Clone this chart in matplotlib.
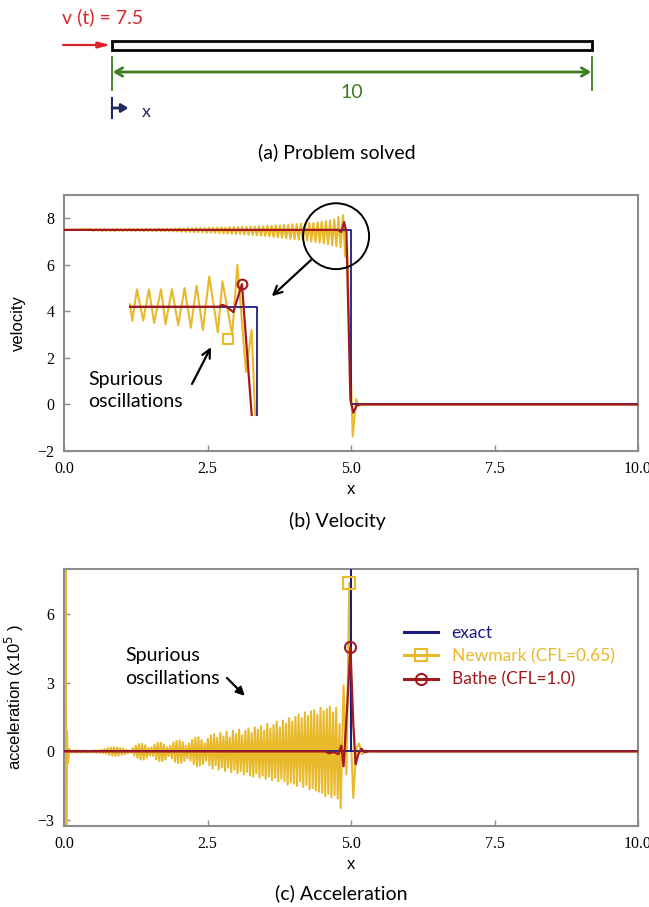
import numpy as np
import matplotlib.pyplot as plt
from matplotlib.patches import Rectangle, Ellipse
from matplotlib.lines import Line2D

plt.rcParams['font.family'] = ['Liberation Serif', 'DejaVu Serif']
plt.rcParams['axes.unicode_minus'] = True

NAVY = '#1c1c84'
GOLD = '#e9b92c'
RED = '#a3191c'
SPINE = '#8c8c8c'
ANNO = 'Lato'
LABEL = 'Liberation Sans'

# ---- (a) problem: bar of length 10, velocity 7.5 applied at x = 0
bar_length = 10
v_applied = 7.5

# ---- (b) velocity
vel_exact_x = [0, 5.0, 5.0, 10]
vel_exact_y = [7.5, 7.5, 0, 0]
vel_bathe_x = [0, 4.78, 4.83, 4.88, 4.92, 4.99, 5.04, 5.10, 5.16, 10]
vel_bathe_y = [7.5, 7.5, 7.41, 7.84, 7.4, 0.2, -0.35, -0.05, 0, 0]
# newmark ripple around 7.5, one (above, below) pair per cycle between x=0.5 and x=4.8
vel_nm_up = [0.03, 0.04, 0.03, 0.05, 0.03, 0.04, 0.05, 0.03, 0.04, 0.05,
             0.04, 0.05, 0.04, 0.06, 0.05, 0.04, 0.06, 0.05, 0.06, 0.05,
             0.06, 0.07, 0.06, 0.08, 0.07, 0.08, 0.09, 0.08, 0.10, 0.09,
             0.10, 0.11, 0.10, 0.12, 0.13, 0.12, 0.14, 0.13, 0.15, 0.14,
             0.16, 0.15, 0.18, 0.17, 0.20, 0.19, 0.22, 0.21, 0.24, 0.25,
             0.27, 0.26, 0.30, 0.29, 0.33, 0.35, 0.38, 0.40, 0.45, 0.55]
vel_nm_dn = [0.04, 0.03, 0.05, 0.04, 0.04, 0.05, 0.03, 0.05, 0.04, 0.04,
             0.05, 0.04, 0.06, 0.05, 0.05, 0.06, 0.05, 0.06, 0.05, 0.07,
             0.07, 0.08, 0.08, 0.09, 0.10, 0.10, 0.11, 0.12, 0.12, 0.13,
             0.14, 0.15, 0.15, 0.17, 0.18, 0.18, 0.20, 0.21, 0.22, 0.23,
             0.25, 0.26, 0.28, 0.30, 0.32, 0.34, 0.36, 0.38, 0.40, 0.42,
             0.44, 0.46, 0.50, 0.52, 0.55, 0.58, 0.62, 0.66, 0.70, 0.75]
vel_nm_front_x = [4.86, 4.90, 4.93, 5.03, 5.09, 5.13, 5.18, 10]
vel_nm_front_y = [8.13, 6.35, 6.9, -1.38, 0.23, -0.05, 0, 0]

# zoomed detail of the wave front (drawn inside the velocity panel)
zoom_exact_x = [1.15, 3.36, 3.36]
zoom_exact_y = [4.2, 4.2, -0.45]
zoom_bathe_x = [1.15, 2.70, 2.76, 2.82, 2.95, 3.10, 3.27]
zoom_bathe_y = [4.2, 4.2, 4.28, 4.22, 3.97, 5.17, -0.45]
zoom_nm_x = [1.15, 1.19, 1.27, 1.38, 1.48, 1.57, 1.69, 1.77, 1.88, 1.99, 2.10,
             2.21, 2.31, 2.42, 2.53, 2.68, 2.76, 2.93, 3.02, 3.17, 3.27, 3.33]
zoom_nm_y = [4.3, 3.6, 4.95, 3.6, 4.95, 3.5, 4.95, 3.45, 4.95, 3.4, 5.0,
             3.3, 5.1, 3.2, 5.5, 3.1, 5.3, 3.0, 6.0, 1.4, 3.2, -0.45]
zoom_nm_marker = (2.86, 2.8)
zoom_bathe_marker = (3.10, 5.17)

# ---- (c) acceleration (x1e5)
acc_exact_x = [0, 5.0, 5.0, 5.0, 10]
acc_exact_y = [0, 0, 20, 0, 0]
acc_bathe_x = [0, 4.55, 4.62, 4.70, 4.78, 4.83, 4.87, 4.93, 4.99, 5.04, 5.08,
               5.13, 5.18, 5.24, 5.30, 10]
acc_bathe_y = [0, 0, -0.08, -0.03, -0.12, 0.25, -0.65, 1.8, 4.55, 1.2, -0.56,
               -0.1, 0.12, -0.04, 0, 0]
acc_nm_start_x = [0, 0.01, 0.02, 0.03, 0.04, 0.05, 0.07, 0.09]
acc_nm_start_y = [0, 12, -6, 12, -6, 0.9, -0.5, 0.1]
# spurious spikes between x=0.12 and x=4.76: peak above / below zero per cycle
acc_nm_up = [0.05, 0.04, 0.05, 0.04, 0.05, 0.04, 0.03, 0.04, 0.05, 0.06, 0.07,
             0.10, 0.14, 0.17, 0.18, 0.17, 0.15, 0.12, 0.08, 0.05,
             0.15, 0.25, 0.32, 0.33, 0.27, 0.15,
             0.18, 0.30, 0.38, 0.38, 0.30, 0.18,
             0.25, 0.40, 0.45, 0.47, 0.40, 0.25,
             0.35, 0.50, 0.60, 0.62, 0.50, 0.35,
             0.55, 0.70, 0.75, 0.60, 0.80, 0.65,
             0.85, 0.60, 0.90, 0.75, 0.95, 0.70,
             0.90, 1.00, 0.80, 1.05, 0.95, 1.10,
             0.90, 1.20, 1.00, 1.15, 1.30, 1.05,
             1.35, 1.20, 1.45, 1.30, 1.50, 1.60,
             1.45, 1.70, 1.55, 1.75, 1.80, 1.60,
             1.90, 1.75, 1.85, 1.95, 1.70, 1.90]
acc_nm_dn = [0.05, 0.05, 0.04, 0.05, 0.04, 0.05, 0.04, 0.03, 0.05, 0.06, 0.07,
             0.10, 0.15, 0.18, 0.20, 0.18, 0.15, 0.12, 0.08, 0.05,
             0.18, 0.28, 0.35, 0.35, 0.28, 0.18,
             0.20, 0.35, 0.42, 0.42, 0.35, 0.20,
             0.30, 0.45, 0.52, 0.50, 0.42, 0.30,
             0.40, 0.55, 0.65, 0.60, 0.55, 0.40,
             0.60, 0.75, 0.60, 0.80, 0.70, 0.85,
             0.70, 0.90, 0.80, 0.95, 0.85, 1.00,
             0.90, 1.05, 1.10, 0.95, 1.15, 1.05,
             1.20, 1.10, 1.25, 1.15, 1.30, 1.20,
             1.30, 1.45, 1.35, 1.40, 1.50, 1.30,
             1.55, 1.45, 1.65, 1.60, 1.70, 1.75,
             1.80, 1.95, 1.85, 2.00, 1.90, 2.05]
acc_nm_front_x = [4.80, 4.82, 4.87, 4.92, 4.97, 5.00, 5.04, 5.09, 5.14, 5.19, 5.25, 5.35, 10]
acc_nm_front_y = [1.2, -2.47, 2.87, -1.0, 7.35, 0.5, -2.03, 0.1, 0.35, -0.12, 0.04, 0, 0]
acc_nm_marker = (4.97, 7.35)
acc_bathe_marker = (4.99, 4.55)


def ripple(x0, x1, up, dn, base):
    # zigzag through the listed peaks, one cycle per entry
    xc = np.linspace(x0, x1, len(up))
    step = (x1 - x0) / (len(up) - 1)
    xs = np.column_stack([xc - step / 4, xc + step / 4]).ravel()
    ys = np.column_stack([base + np.array(up), base - np.array(dn)]).ravel()
    return list(xs), list(ys)


def style_axes(ax):
    for s in ax.spines.values():
        s.set_color(SPINE)
        s.set_linewidth(1.5)
    ax.tick_params(direction='in', length=4, width=1, color=SPINE,
                   labelsize=11.5, pad=7)
    ax.set_xlim(0, 10)
    ax.set_xticks([0, 2.5, 5, 7.5, 10])


fig = plt.figure(figsize=(6.49, 9.07), dpi=100)

# ---------------- (a) sketch
ax0 = fig.add_axes([0, 737 / 907, 1, 170 / 907])
ax0.set_xlim(-112 / 48, 537 / 48)
ax0.set_ylim(170, 0)
ax0.axis('off')
ax0.add_patch(Rectangle((0, 41), bar_length, 9, facecolor='#f6f6f6',
                        edgecolor='black', lw=2))
ax0.annotate('', xy=(-0.03, 45), xytext=(-1.02, 45),
             arrowprops=dict(arrowstyle='-|>,head_length=0.7,head_width=0.18',
                             color='#d7262b', lw=1.6, shrinkA=0, shrinkB=0))
ax0.text(-1.04, 17, f'v (t) = {v_applied}', color='#d7262b', fontsize=14,
         family=ANNO, ha='left', va='center')
green = '#3b7d1f'
ax0.plot([0, 0], [57, 90], color=green, lw=1.3)
ax0.plot([bar_length, bar_length], [57, 90], color=green, lw=1.3)
ax0.annotate('', xy=(bar_length - 0.02, 72), xytext=(0.02, 72),
             arrowprops=dict(arrowstyle='<->,head_length=0.5,head_width=0.3',
                             color=green, lw=2, shrinkA=0, shrinkB=0))
ax0.text(bar_length / 2, 93, str(bar_length), color=green, fontsize=14,
         family=ANNO, ha='center', va='center')
ax0.plot([0, 0], [98, 118], color='#1f2a5e', lw=1.5)
ax0.annotate('', xy=(0.34, 108), xytext=(0, 108),
             arrowprops=dict(arrowstyle='-|>,head_length=0.4,head_width=0.25',
                             color='#1f2a5e', lw=2, shrinkA=0, shrinkB=0))
ax0.text(0.62, 112, 'x', color='#1f2a5e', fontsize=13, family=ANNO,
         ha='left', va='center')
ax0.text(337 / 48 - 112 / 48, 152, '(a) Problem solved', fontsize=14,
         family=ANNO, ha='center', va='center')

# ---------------- (b) velocity
ax1 = fig.add_axes([64 / 649, 1 - 451 / 907, 574 / 649, 256 / 907])
style_axes(ax1)
ax1.set_ylim(-2, 9)
ax1.set_yticks([-2, 0, 2, 4, 6, 8])

rx, ry = ripple(0.5, 4.8, vel_nm_up, vel_nm_dn, 7.5)
ax1.plot([0] + rx + vel_nm_front_x, [7.5] + ry + vel_nm_front_y,
         color=GOLD, lw=1.5, zorder=2)
ax1.plot(vel_exact_x, vel_exact_y, color=NAVY, lw=1.3, zorder=3)
ax1.plot(vel_bathe_x, vel_bathe_y, color=RED, lw=1.6, zorder=4)

ax1.plot(zoom_nm_x, zoom_nm_y, color=GOLD, lw=1.5, zorder=2)
ax1.plot(zoom_exact_x, zoom_exact_y, color=NAVY, lw=1.3, zorder=3)
ax1.plot(zoom_bathe_x, zoom_bathe_y, color=RED, lw=1.6, zorder=4)
ax1.plot(*zoom_nm_marker, marker='s', ms=7, mfc='none', mec=GOLD, mew=1.5, zorder=5)
ax1.plot(*zoom_bathe_marker, marker='o', ms=7, mfc='none', mec=RED, mew=1.5, zorder=5)

ax1.add_patch(Ellipse((4.74, 7.23), 1.15, 2.83, fill=False, ec='black', lw=1.4,
                      zorder=6))
ax1.annotate('', xy=(3.62, 4.65), xytext=(4.30, 6.2),
             arrowprops=dict(arrowstyle='->,head_length=0.6,head_width=0.3',
                             color='black', lw=1.6, shrinkA=0, shrinkB=0))
ax1.annotate('', xy=(2.56, 2.46), xytext=(2.23, 0.88),
             arrowprops=dict(arrowstyle='->,head_length=0.6,head_width=0.3',
                             color='black', lw=1.6, shrinkA=0, shrinkB=0))
ax1.text(0.42, 0.6, 'Spurious\noscillations', fontsize=14, family=ANNO,
         ha='left', va='center', linespacing=1.4)
ax1.set_ylabel('velocity', family=LABEL, fontsize=12, labelpad=8)
ax1.set_xlabel('x', family=LABEL, fontsize=12, labelpad=4)
fig.text(337 / 649, 1 - 521 / 907, '(b) Velocity', fontsize=14, family=ANNO,
         ha='center', va='center')

# ---------------- (c) acceleration
ax2 = fig.add_axes([64 / 649, 1 - 826 / 907, 574 / 649, 257 / 907])
style_axes(ax2)
ax2.set_ylim(-3.25, 7.95)
ax2.set_yticks([-3, 0, 3, 6])

rx, ry = ripple(0.12, 4.755, acc_nm_up, acc_nm_dn, 0.0)
ax2.plot(acc_nm_start_x + rx + acc_nm_front_x, acc_nm_start_y + ry + acc_nm_front_y,
         color=GOLD, lw=1.5, zorder=2)
ax2.plot(acc_exact_x, acc_exact_y, color=NAVY, lw=1.3, zorder=3)
ax2.plot(acc_bathe_x, acc_bathe_y, color=RED, lw=1.6, zorder=4)
ax2.plot(*acc_nm_marker, marker='s', ms=8, mfc='none', mec=GOLD, mew=1.5, zorder=5)
ax2.plot(*acc_bathe_marker, marker='o', ms=8, mfc='none', mec=RED, mew=1.5, zorder=5)

ax2.text(1.06, 3.68, 'Spurious\noscillations', fontsize=14, family=ANNO,
         ha='left', va='center', linespacing=1.4)
ax2.annotate('', xy=(3.15, 2.42), xytext=(2.84, 3.2),
             arrowprops=dict(arrowstyle='-|>,head_length=0.5,head_width=0.25',
                             color='black', lw=1.6, shrinkA=0, shrinkB=0))
ax2.set_ylabel(r'acceleration (x10$^5$ )', family=LABEL, fontsize=12, labelpad=8)
ax2.set_xlabel('x', family=LABEL, fontsize=12, labelpad=4)

handles = [Line2D([], [], color=NAVY, lw=2.2),
           Line2D([], [], color=GOLD, lw=2.2, marker='s', ms=8, mfc='none', mew=1.5),
           Line2D([], [], color=RED, lw=2.2, marker='o', ms=8, mfc='none', mew=1.5)]
ax2.legend(handles, ['exact', 'Newmark (CFL=0.65)', 'Bathe (CFL=1.0)'],
           loc='upper left', bbox_to_anchor=(0.592, 0.782), frameon=False,
           prop={'family': ANNO, 'size': 12.5}, labelcolor=[NAVY, GOLD, RED],
           handlelength=1.95, handletextpad=0.8, labelspacing=0.42, borderpad=0,
           borderaxespad=0)
fig.text(341 / 649, 1 - 893 / 907, '(c) Acceleration', fontsize=14, family=ANNO,
         ha='center', va='center')

fig.savefig('out.png', dpi=100)
